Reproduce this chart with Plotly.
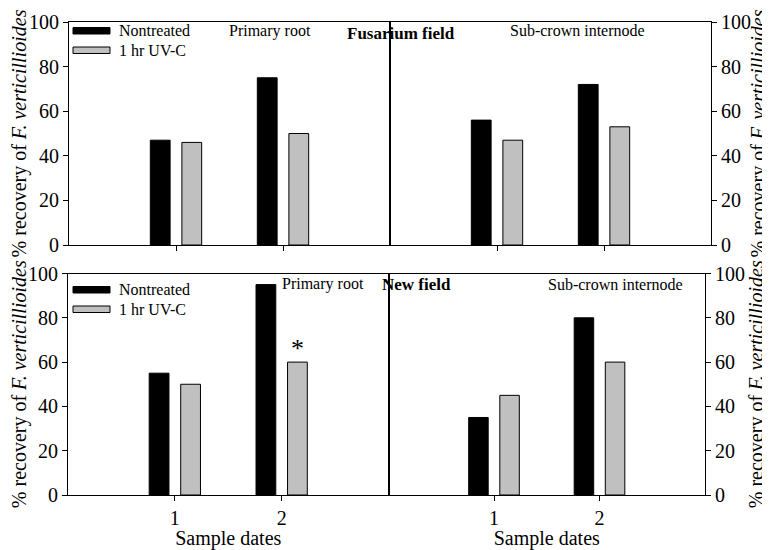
import plotly.graph_objects as go

dates = [1, 2]
series_names = ["Nontreated", "1 hr UV-C"]
# Fusarium field
fus_root_nt = [47, 75]
fus_root_uv = [46, 50]
fus_sci_nt = [56, 72]
fus_sci_uv = [47, 53]
# New field
new_root_nt = [55, 95]
new_root_uv = [50, 60]
new_sci_nt = [35, 80]
new_sci_uv = [45, 60]

y_ticks = [0, 20, 40, 60, 80, 100]
x_ticks = [1, 2]

FONT = "Liberation Serif"
BLACK = "#000000"
GRAY = "#c0c0c0"

W, H = 762, 542
OFF = 8  # page body margin


def PX(x):
    return (x - OFF) / W


def PY(y):
    return 1 - (y - OFF) / H


fig = go.Figure()

panels = [
    ("x", "y", fus_root_nt, fus_root_uv),
    ("x2", "y2", fus_sci_nt, fus_sci_uv),
    ("x3", "y3", new_root_nt, new_root_uv),
    ("x4", "y4", new_sci_nt, new_sci_uv),
]
for xa, ya, nt, uv in panels:
    fig.add_trace(go.Bar(x=dates, y=nt, xaxis=xa, yaxis=ya, name=series_names[0],
                         offset=-0.24, width=0.185,
                         marker=dict(color=BLACK, line=dict(color=BLACK, width=1)),
                         showlegend=False))
    fig.add_trace(go.Bar(x=dates, y=uv, xaxis=xa, yaxis=ya, name=series_names[1],
                         offset=0.055, width=0.185,
                         marker=dict(color=GRAY, line=dict(color=BLACK, width=1)),
                         showlegend=False))

x_tl = [PX(69), PX(390)]
x_tr = [PX(390), PX(711)]
x_bl = [PX(68), PX(388.5)]
x_br = [PX(388.5), PX(705)]
y_top = [PY(245), PY(22)]
y_bot = [PY(495), PY(273.5)]

ytitle = "% recovery of <i>F. verticillioides</i>"
TICKSZ = 20
TITLESZ = 20


def xax(domain, anchor, labels, title=None):
    d = dict(domain=domain, anchor=anchor, range=[0, 3], tickvals=x_ticks,
             showticklabels=labels, ticks="outside", ticklen=5, tickcolor=BLACK,
             showline=True, linecolor=BLACK, linewidth=1, mirror=True,
             showgrid=False, zeroline=False, fixedrange=True,
             tickfont=dict(family=FONT, size=TICKSZ, color=BLACK), automargin=False)
    if title:
        d["title"] = dict(text=title, font=dict(family=FONT, size=TICKSZ, color=BLACK), standoff=0)
    return d


def yax(domain, anchor, side):
    return dict(domain=domain, anchor=anchor, range=[0, 100], tickvals=y_ticks, side=side,
                ticks="outside", ticklen=5, tickcolor=BLACK,
                showline=True, linecolor=BLACK, linewidth=1, mirror=True,
                showgrid=False, zeroline=False, fixedrange=True,
                tickfont=dict(family=FONT, size=TICKSZ, color=BLACK), automargin=False,
                title=dict(text=ytitle, font=dict(family=FONT, size=TITLESZ, color=BLACK), standoff=0))


fig.update_layout(
    width=W, height=H,
    margin=dict(l=0, r=0, t=0, b=0),
    paper_bgcolor="white", plot_bgcolor="white",
    barmode="overlay",
    showlegend=False,
    font=dict(family=FONT, color=BLACK),
    xaxis=xax(x_tl, "y", False),
    xaxis2=xax(x_tr, "y2", False),
    xaxis3=xax(x_bl, "y3", True, "Sample dates"),
    xaxis4=xax(x_br, "y4", True, "Sample dates"),
    yaxis=yax(y_top, "x", "left"),
    yaxis2=yax(y_top, "x2", "right"),
    yaxis3=yax(y_bot, "x3", "left"),
    yaxis4=yax(y_bot, "x4", "right"),
)


# Legend boxes (paper coordinates) and labels for both rows
def legend(top_px):
    for i, (name, col) in enumerate(zip(series_names, [BLACK, GRAY])):
        y0 = top_px + i * 19.5
        fig.add_shape(type="rect", xref="paper", yref="paper",
                      x0=PX(73), x1=PX(110), y0=PY(y0 + 6.5), y1=PY(y0),
                      fillcolor=col, line=dict(color=BLACK, width=1))
        fig.add_annotation(xref="paper", yref="paper", x=PX(117), y=PY(y0 + 3.5),
                           text=name, showarrow=False, xanchor="left", yanchor="middle",
                           font=dict(family=FONT, size=16, color=BLACK))


legend(27.5)
legend(286.5)


def label(x_px, y_px, text, size=16, bold=False):
    fig.add_annotation(xref="paper", yref="paper", x=PX(x_px), y=PY(y_px),
                       text=f"<b>{text}</b>" if bold else text, showarrow=False,
                       xanchor="center", yanchor="middle",
                       font=dict(family=FONT, size=size, color=BLACK))


label(270, 31, "Primary root")
label(401, 33, "Fusarium field", 17, True)
label(577, 31, "Sub-crown internode")
label(323, 284, "Primary root")
label(416, 284, "New field", 17, True)
label(615, 284, "Sub-crown internode")

# significance marker
fig.add_annotation(xref="x3", yref="y3", x=dates[1] + 0.1475, y=new_root_uv[1], text="*",
                   showarrow=False, yanchor="bottom", yshift=-3,
                   font=dict(family=FONT, size=26, color=BLACK))

fig.write_html("out.html")
